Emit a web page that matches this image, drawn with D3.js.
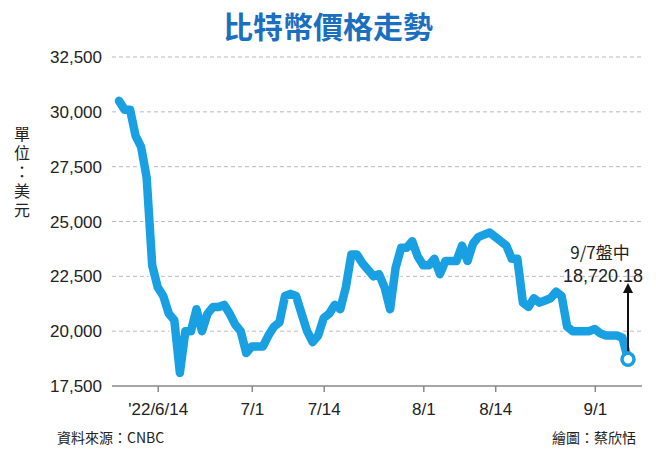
<!DOCTYPE html>
<html><head><meta charset="utf-8">
<script src="https://cdn.jsdelivr.net/npm/d3@7"></script>
<style>body{margin:0;background:#fff;font-family:"Noto Sans CJK TC","Liberation Sans",sans-serif}</style>
</head><body><svg id="c" width="656" height="451"></svg>
<script>
// daily closes, 6/7 .. 9/7 2022
var startDate = "2022-06-07";
var prices = [30500,30100,30100,28900,28400,27000,23000,22000,21600,20800,20500,18100,20000,20000,
  21000,20000,20800,21100,21100,21200,20800,20300,20000,19000,19300,19300,19300,19800,20200,20400,
  21600,21700,21600,20800,20000,19500,19800,20600,20800,21200,21000,22000,23500,23500,23100,22800,
  22500,22600,22000,21000,22900,23800,23800,24100,23400,23000,23000,23300,22600,23200,23200,23200,
  23900,23200,24000,24300,24400,24500,24300,24100,23900,23300,23300,21300,21100,21500,21300,21400,
  21500,21800,21600,20200,20000,20000,20000,20000,20100,19900,19800,19800,19800,19700,18720.18];
var yTicks = [17500,20000,22500,25000,27500,30000,32500];
var xTickDates = ["2022-06-14","2022-07-01","2022-07-14","2022-08-01","2022-08-14","2022-09-01"];
var xTickLabels = ["'22/6/14","7/1","7/14","8/1","8/14","9/1"];

var parse = d3.utcParse("%Y-%m-%d");
var t0 = parse(startDate);
var data = prices.map((v, i) => ({date: d3.utcDay.offset(t0, i), v: v}));

var svg = d3.select("#c");
var x = d3.scaleUtc().domain([t0, data[data.length-1].date]).range([119, 628]);
var y = d3.scaleLinear().domain([17500, 32500]).range([386, 57]);

// grid
svg.append("g").selectAll("line").data(yTicks.slice(1)).enter().append("line")
  .attr("x1", 112).attr("x2", 642).attr("y1", d => y(d)).attr("y2", d => y(d))
  .attr("stroke", "#aaa").attr("stroke-dasharray", "4,3").attr("stroke-width", 0.8);

svg.append("g").selectAll("text").data(yTicks).enter().append("text")
  .attr("x", 102).attr("y", d => y(d) + 6).attr("text-anchor", "end")
  .style("font-family", "Liberation Sans, Arial").style("font-size", "17px").style("fill", "#222")
  .text(d => d3.format(",")(d));

// axis
var xAxis = d3.axisBottom(x).tickValues(xTickDates.map(parse)).tickSize(6)
  .tickFormat((d, i) => xTickLabels[i]);
var ax = svg.append("g").attr("transform", "translate(0,386)").call(xAxis);
ax.select(".domain").attr("d", "M112,0H642").attr("stroke", "#888").attr("stroke-width", 1.5);
ax.selectAll(".tick line").attr("stroke", "#888").attr("stroke-width", 1.5);
ax.selectAll(".tick text").attr("dy", "1.2em")
  .style("font-family", "Liberation Sans, Arial").style("font-size", "17px").style("fill", "#222");

// line with white halo
var line = d3.line().x(d => x(d.date)).y(d => y(d.v)).curve(d3.curveLinear);
svg.append("path").datum(data).attr("d", line).attr("fill", "none")
  .attr("stroke", "#fff").attr("stroke-width", 12).attr("stroke-linejoin", "round").attr("stroke-linecap", "round");
svg.append("path").datum(data).attr("d", line).attr("fill", "none")
  .attr("stroke", "#19a0e3").attr("stroke-width", 8.5).attr("stroke-linejoin", "round").attr("stroke-linecap", "round");

var last = data[data.length-1];
svg.append("circle").attr("cx", x(last.date)).attr("cy", y(last.v)).attr("r", 6)
  .attr("fill", "#fff").attr("stroke", "#19a0e3").attr("stroke-width", 3.5);

// annotation arrow
svg.append("defs").append("marker").attr("id", "ah").attr("viewBox", "0 0 10 10")
  .attr("refX", 5).attr("refY", 5).attr("markerWidth", 5).attr("markerHeight", 6).attr("orient", "auto")
  .append("path").attr("d", "M0,0L10,5L0,10z").attr("fill", "#111");
svg.append("line").attr("x1", x(last.date)).attr("x2", x(last.date))
  .attr("y1", y(last.v) - 8).attr("y2", 288).attr("stroke", "#111").attr("stroke-width", 2)
  .attr("marker-end", "url(#ah)");
svg.append("text").attr("x", 600).attr("y", 259).attr("text-anchor", "middle")
  .style("font-size", "17px").style("fill", "#222").text("9/7盤中");
svg.append("text").attr("x", 603).attr("y", 282).attr("text-anchor", "middle")
  .style("font-family", "Liberation Sans, Arial").style("font-size", "18px").style("fill", "#222").text("18,720.18");

// title
svg.append("text").attr("x", 328).attr("y", 38).attr("text-anchor", "middle")
  .style("font-size", "30px").style("font-weight", "bold").style("fill", "#1a6fc0").text("比特幣價格走勢");

// unit label, vertical
svg.append("text").attr("x", 22).attr("y", 126)
  .style("writing-mode", "vertical-rl").style("letter-spacing", "3px")
  .style("font-size", "16px").style("fill", "#222").text("單位：美元");

svg.append("text").attr("x", 57).attr("y", 443).style("font-size", "14px").style("fill", "#222").text("資料來源：CNBC");
svg.append("text").attr("x", 636).attr("y", 443).attr("text-anchor", "end").style("font-size", "14px").style("fill", "#222").text("繪圖：蔡欣恬");
</script></body></html>
